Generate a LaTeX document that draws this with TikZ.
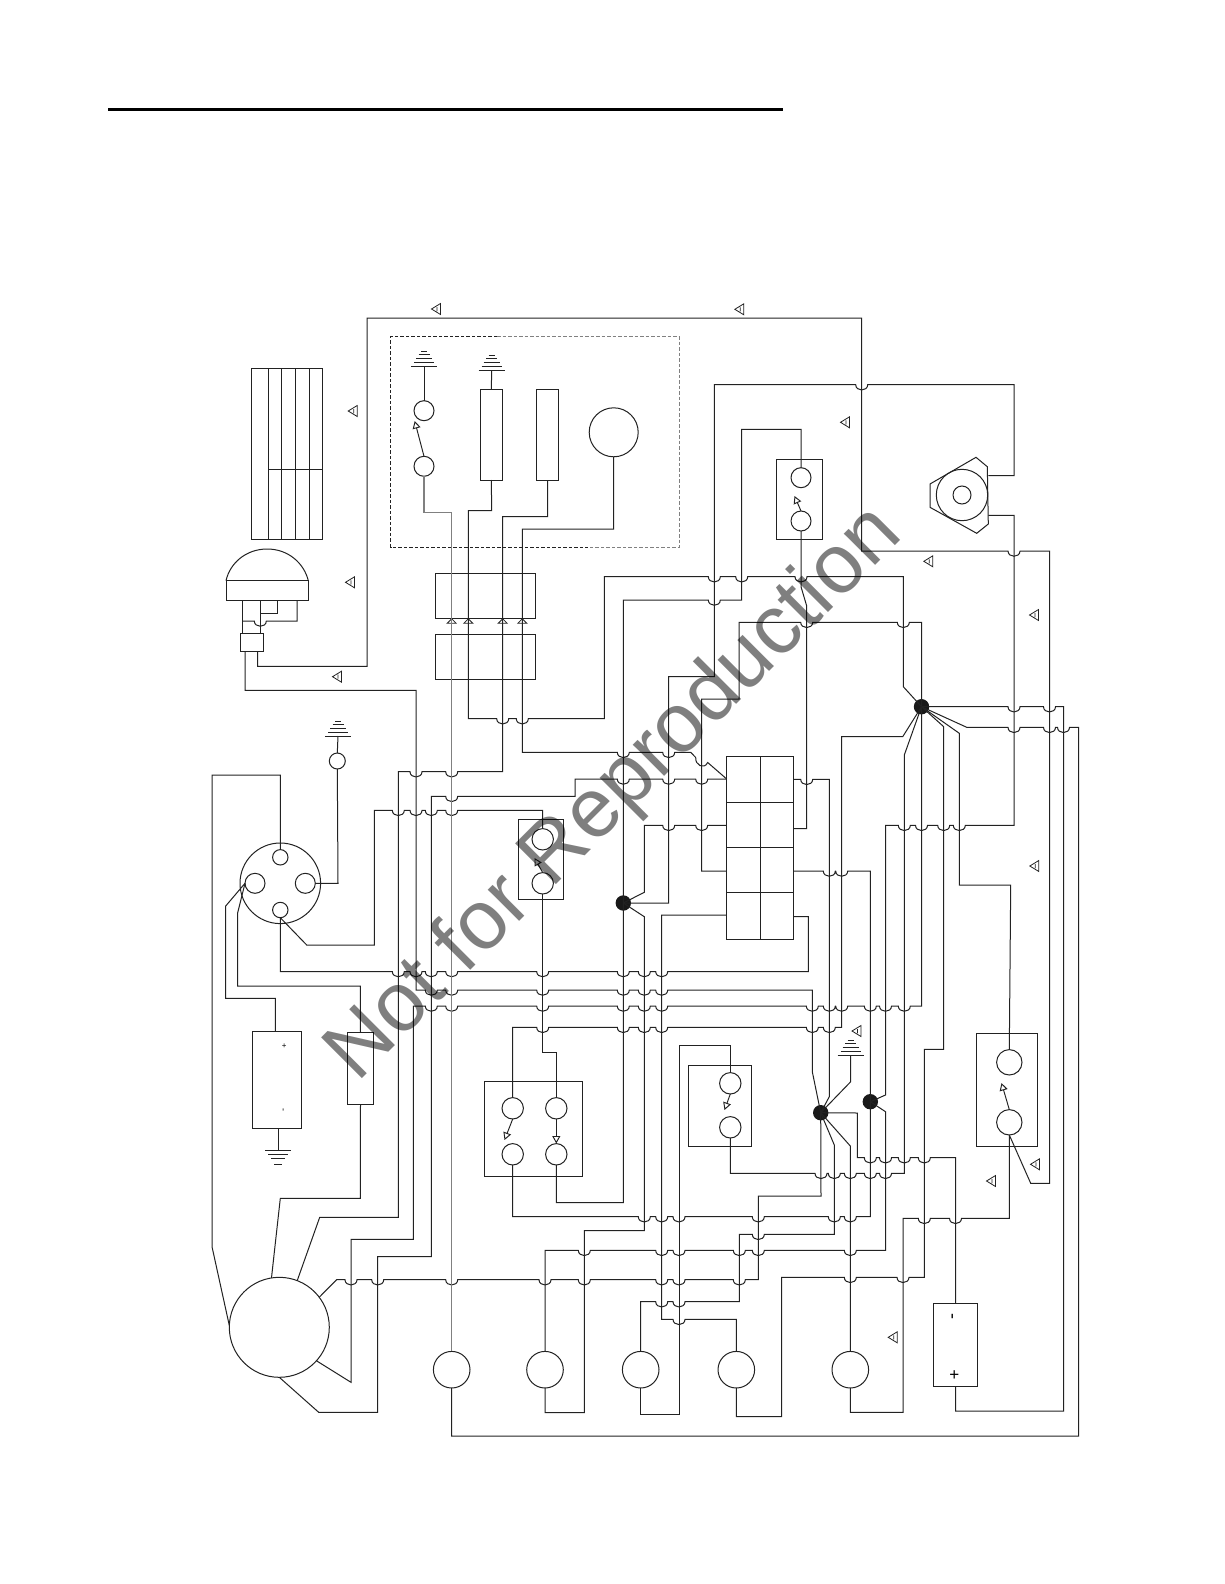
\documentclass[tikz,border=0pt]{standalone}
\usepackage{fontspec}
\setmainfont{Liberation Sans}
\usetikzlibrary{arrows.meta}
\definecolor{wirecol}{HTML}{222222}
\definecolor{greycol}{HTML}{808080}
\tikzset{
  wire/.style={draw=wirecol,line width=1pt,line join=miter},
  greywire/.style={draw=greycol,line width=1.2pt,line join=miter},
  part/.style={draw=wirecol,line width=1pt,rectangle,inner sep=0pt,outer sep=0pt},
  circ/.style={draw=wirecol,line width=1pt,circle,inner sep=0pt,outer sep=0pt},
  junction/.style={fill=black!90,circle,inner sep=0pt,outer sep=0pt,minimum size=15.4pt},
  actuator/.style={draw=wirecol,line width=0.95pt,-{Triangle[open,length=7.5pt,width=8pt]}},
  symline/.style={draw=wirecol,line width=0.8pt},
  watermark/.style={text=black,text opacity=0.5,font=\fontsize{83.8}{84}\selectfont,rotate=45,anchor=base west,inner sep=0pt}
}
\newcommand{\HH}[2]{\foreach \hx in {#2}{ -- (\hx-6,#1) .. controls (\hx-6,#1+7) and (\hx+6,#1+7) .. (\hx+6,#1)}}
\newcommand{\Bx}[5]{\node[part,minimum width={#4pt-#2pt},minimum height={#5pt-#3pt}] (#1) at ({(#2+#4)/2},{(#3+#5)/2}) {};}
\newcommand{\Cr}[4]{\node[circ,minimum size={2*#4pt}] (#1) at (#2,#3) {};}
\newcommand{\Flag}[2]{\draw[symline] (#1-4.5,#2) -- (#1+4.5,#2-5.5) -- (#1+4.5,#2+5.5) -- cycle (#1+1,#2-2) -- (#1+1,#2+2);}
\newcommand{\Tri}[2]{\draw[symline] (#1-4.5,#2+4.5) -- (#1,#2) -- (#1+4.5,#2+4.5) -- cycle;}
\newcommand{\GndUp}[2]{\draw[symline,line width=0.9pt] (#1-13,#2) -- (#1+13,#2);
  \draw[symline] (#1-10,#2-4) -- (#1+10,#2-4) (#1-8,#2-8) -- (#1+8,#2-8) (#1-5.5,#2-12) -- (#1+5.5,#2-12) (#1-3,#2-15) -- (#1+3,#2-15);}
\newcommand{\GndDn}[2]{\draw[symline,line width=0.9pt] (#1-13,#2) -- (#1+13,#2);
  \draw[symline] (#1-10,#2+4) -- (#1+10,#2+4) (#1-7,#2+8) -- (#1+7,#2+8) (#1-4,#2+14) -- (#1+4,#2+14);}
\begin{document}
\begin{tikzpicture}[x=1pt,y=-1pt]
\useasboundingbox (0,0) rectangle (1224,1584);
\fill[white] (0,0) rectangle (1224,1584);
% heading rule
\coordinate (ruleA) at (108,109.3);
\coordinate (ruleB) at (783,109.3);
\draw[black,line width=3pt] (ruleA) -- (ruleB);

% -------- parts ----------
\Bx{panel}{251.3}{368.3}{322.3}{539.3}
\foreach \vx in {268.3,281.3,295.7,309.7}{\draw[wire] (\vx,368.3) -- (\vx,539.3);}
\draw[wire] (268.3,469.3) -- (322.3,469.3);
% dome lamp
\Bx{domebase}{226}{580.7}{308.3}{600}
\draw[wire] (226,580.7) .. controls (230,563) and (246,549) .. (267.2,549) .. controls (288,549) and (304,563) .. (308.3,580.7);
\Bx{plug}{240.7}{633.3}{263.3}{651}
\coordinate (plugA) at (245,651);
\coordinate (plugB) at (257.7,651);
% dashed module
\draw[wire,dash pattern=on 3.5pt off 2pt] (497,336.7) -- (390.7,336.7) -- (390.7,547.3) -- (588,547.3);
\draw[greywire,line width=0.95pt,dash pattern=on 3.5pt off 2pt] (497,336.7) -- (679,336.7) -- (679,547.3) -- (588,547.3);
\Cr{mU}{424}{410.7}{10}
\Cr{mL}{424}{466.3}{10}
\Bx{rA}{480.3}{389.3}{502.3}{480}
\Bx{rB}{536.7}{389.3}{558.3}{480}
\Cr{gauge}{613.7}{432.3}{24.5}
\GndUp{424}{366.7}
\GndUp{491.7}{370.7}
\draw[actuator] (mL.north) ++(0,0) -- (414.7,421);
\coordinate (gA) at (424,366.7);
\coordinate (gB) at (491.7,370.7);
\draw[wire] (gA) -- (mU.north);
\draw[wire] (gB) -- (rA.north);
% inline connector
\Bx{cnU}{435.7}{573.7}{535.3}{618.3}
\Bx{cnD}{435.7}{634.7}{535.3}{679.3}
\Tri{451.7}{618.8}
\Tri{468.3}{618.8}
\Tri{502.7}{618.8}
\Tri{522.3}{618.8}
% upper switch
\Bx{swT}{776.3}{459}{822}{539.3}
\Cr{sT}{801}{477.7}{10}
\Cr{sB}{801}{521}{10}
\draw[actuator] (sB.north) -- (794.5,496);
% alternator
\coordinate (altA) at (988.3,475.7);
\coordinate (altB) at (988.3,515.3);
\draw[wire] (976,457.3) -- (987.3,466.7) -- (988.3,524) -- (976.7,533.3) -- (930,507.3) -- (930,484) -- cycle;
\Cr{altO}{962}{495}{25.7}
\Cr{altI}{962}{495}{9}
% fuse table
\Bx{tbl}{726.7}{756}{793.3}{939}
\draw[wire] (726.7,802) -- (793.3,802) (726.7,847.3) -- (793.3,847.3) (726.7,892.3) -- (793.3,892.3) (760.3,756) -- (760.3,939);
\coordinate (tL1) at (726.7,779);
\coordinate (tL2) at (726.7,825.3);
\coordinate (tL3) at (726.7,871);
\coordinate (tL4) at (726.7,915);
\coordinate (tR1) at (793.3,779.3);
\coordinate (tR2) at (793.3,828.7);
\coordinate (tR3) at (793.3,871);
\coordinate (tR4) at (793.3,916.7);
% round connector
\Cr{cn}{280.3}{883.3}{40.3}
\Cr{cnT}{280.3}{857.3}{7.7}
\Cr{cnB}{280.3}{910}{7.7}
\Cr{cnL}{255}{883.3}{10}
\Cr{cnR}{305.3}{883.3}{10}
\Cr{gc}{337.3}{761}{8}
\GndUp{338}{736}
\coordinate (gC) at (338,736);
\draw[wire] (gC) -- (gc.north);
% left battery + fuse
\Bx{batL}{252.3}{1031}{301.3}{1128.3}
\coordinate (batLt) at (275.3,1031);
\coordinate (batLb) at (278,1128.3);
\node[inner sep=0pt,font=\fontsize{8}{8}\selectfont] (batLp) at (284.3,1045.7) {+};
\node[inner sep=0pt,rotate=90,font=\fontsize{9}{9}\selectfont] (batLm) at (284.3,1110) {-};
\coordinate (gD) at (278,1150);
\GndDn{278}{1150}
\draw[wire] (batLb) -- (gD);
\Bx{fuse}{347.7}{1032.7}{373.3}{1104}
% middle switch
\Bx{swM}{518.3}{819}{563.3}{899.3}
\Cr{sM1}{542.7}{839.3}{10.7}
\Cr{sM2}{542.7}{883.3}{10.7}
\draw[actuator] (sM2.north) -- (534.5,858);
% lower switch block
\Bx{swL}{484.3}{1081}{582.3}{1176.3}
\Cr{l1}{512.7}{1108.3}{10.7}
\Cr{l2}{556.3}{1108.3}{10.7}
\Cr{l3}{512.7}{1154.3}{10.7}
\Cr{l4}{556.3}{1154.3}{10.7}
\draw[actuator] (l1.south) -- (504.5,1140);
\draw[actuator] (l2.south) -- (556.3,1143.5);
% lower mid switch
\Bx{swN}{688.3}{1065}{751.3}{1146}
\Cr{n1}{730.3}{1083.3}{10.7}
\Cr{n2}{730.3}{1127.3}{10.7}
\draw[actuator] (n1.south) -- (724.5,1110);
% right switch
\Bx{swR}{976.3}{1033.3}{1037.7}{1146.3}
\Cr{r1}{1009.3}{1062.3}{12.7}
\Cr{r2}{1009.3}{1122.3}{12.7}
\draw[actuator] (r2.north) -- (1001.5,1083);
% motor + lamps + right battery
\Cr{big}{279.3}{1327.3}{50}
\Cr{c1}{451.7}{1369.7}{18.3}
\Cr{c2}{545}{1369.7}{18.3}
\Cr{c3}{640.7}{1369.7}{18.3}
\Cr{c4}{736.3}{1369.7}{18.3}
\Cr{c5}{850.3}{1369.7}{18.3}
\Bx{batR}{933.7}{1303.3}{977.3}{1386.7}
\node[inner sep=0pt,rotate=90,font=\fontsize{18}{18}\selectfont] (batRm) at (954.3,1316.5) {-};
\node[inner sep=0pt,font=\fontsize{17}{17}\selectfont] (batRp) at (954.3,1375.7) {+};
\coordinate (batRt) at (955.5,1303.3);
\coordinate (batRb) at (955.5,1386.7);
\GndUp{850.7}{1055}
\coordinate (gE) at (850.7,1055);
% junctions
\node[junction] (J1) at (921.5,706.7) {};
\node[junction] (J2) at (623.3,903) {};
\node[junction] (J3) at (870.3,1101.7) {};
\node[junction] (J4) at (820.7,1112.7) {};

% -------- wires ----------
\draw[wire] (plugB) -- (257.7,666.3) -- (367,666.3) -- (367,318) -- (861.7,318) -- (861.7,551) \HH{551}{1014} -- (1049.5,551) -- (1049.5,1183.3) -- (1030.7,1183.3) -- (r2.south);
\draw[wire] (J2.center) -- (668.7,903) -- (668.7,676.7) -- (714.3,676.7) -- (714.3,384.7) \HH{384.7}{861.7} -- (1014,384.7) -- (1014,475.7) -- (altA);
\draw[wire] (J3.center) -- (885.5,1095) -- (885.5,825.3) \HH{825.3}{904.3,921.5,943.7,959.3} -- (1014,825.3) -- (1014,515.3) -- (altB);
\draw[wire] (l4.south) -- (556.3,1202.7) -- (623.3,1202.7) -- (623.3,600) \HH{600}{714.3} -- (741.7,600) -- (741.7,429.3) -- (801,429.3) -- (sT.north);
\draw[wire] (rA.south) -- (491.7,510.7) -- (468.3,510.7) -- (468.3,718.7) \HH{718.7}{502.7,522.3} -- (604.3,718.7) -- (604.3,576.7) \HH{576.7}{714.3,741.7,801} -- (903.3,576.7) -- (903.3,686.7) -- (J1.center);
\draw[wire] (tL3) -- (701.7,871) -- (701.7,699) -- (739,699) -- (739,622.3) \HH{622.3}{806.7,903.3} -- (921.5,622.3) -- (J1.center);
\draw[wire] (sB.south) -- (801,586.7) -- (806.7,606) -- (806.7,828.7) -- (tR2);
\draw[wire] (tR1) \HH{779.3}{806.7} -- (829.3,779.3) -- (829.3,1096.7) -- (J4.center);
\draw[wire] (l1.north) -- (512.7,1027.3) \HH{1027.3}{542.7,623.3,644.3,661.7,812.3,829.3} -- (841.7,1027.3) -- (841.7,736.7) -- (902.7,736.7) -- (J1.center);
\draw[wire] (cnB.south) -- (280.3,971.5) \HH{971.5}{398.3,416,431.3,451.7,542.7,623.3,644.3,661.7} -- (808.3,971.5) -- (808.3,916.7) -- (tR4);
\draw[wire] (plugA) -- (245,690.3) -- (416,690.3) -- (416,990) \HH{990}{431.3,451.7,542.7,623.3,644.3,661.7} -- (812.3,990) -- (812.3,1071.7) -- (J4.center);
\draw[wire] (big.-42) -- (351,1382.3) -- (351,1239.3) -- (413.3,1239.3) -- (413.3,1006) \HH{1006}{431.3,451.7,542.7,623.3,644.3,661.7,812.3,829.3,841.7,870.3,885.5,904.3} -- (921.5,1006) -- (J1.center);
\draw[wire] (big.south) -- (318.7,1412.3) -- (377.7,1412.3) -- (377.7,1256.7) -- (431.3,1256.7) -- (431.3,796.3) \HH{796.3}{451.7} -- (575,796.3) -- (575,779) \HH{779}{623.3,668.7,701.7} -- (tL1);
\draw[wire] (big.69) -- (319.7,1217.3) -- (398.3,1217.3) -- (398.3,771.7) \HH{771.7}{416,451.7} -- (502.7,771.7) -- (502.7,516.7) -- (547.7,516.7) -- (rB.south);
\draw[wire] (big.99) -- (280.3,1198.3) -- (360.3,1198.3) -- (fuse.south);
\draw[wire] (fuse.north) -- (360.3,986) -- (237.7,986) -- (237.7,912.7) -- (cnL.west);
\draw[wire] (cnL.west) -- (225.7,906) -- (225.7,998.3) -- (275.3,998.3) -- (batLt);
\draw[wire] (big.178) -- (212,1246.7) -- (212,775) -- (280.3,775) -- (cnT.north);
\draw[wire] (cnR.east) -- (338,883.3) -- (gc.south);
\draw[wire] (cnB.south) -- (306.7,945) -- (374.3,945) -- (374.3,810.3) \HH{810.3}{398.3,416,431.3,451.7} -- (542.7,810.3) -- (sM1.north);
\draw[wire] (sM2.south) -- (542.7,1052.7) -- (556.3,1052.7) -- (l2.north);
\draw[wire] (gauge.south) -- (613.7,529) -- (522.3,529) -- (522.3,752.3) \HH{752.3}{623.3,668.7} -- (690.7,752.3) -- (695.7,757.5) .. controls (695,765) and (704,770) .. (707.7,762.5) -- (tL1);
\draw[wire] (J2.center) -- (644.3,892.3) -- (644.3,825.3) \HH{825.3}{668.7,701.7} -- (tL2);
\draw[wire] (J2.center) -- (644.3,916.7) -- (644.3,1230.7) -- (584.3,1230.7) -- (584.3,1412.7) -- (545,1412.7) -- (c2.south);
\draw[wire] (tL4) -- (661.7,915) -- (661.7,1319.3) \HH{1319.3}{679} -- (736.3,1319.3) -- (c4.north);
\draw[wire] (n1.north) -- (730.3,1045) -- (679.2,1045) -- (679.2,1414.3) -- (640.7,1414.3) -- (c3.south);
\draw[wire] (c3.north) -- (640.7,1301.7) \HH{1301.7}{661.7,679} -- (739.3,1301.7) -- (739.3,1234.3) \HH{1234.3}{758.3} -- (834.3,1234.3) -- (834.3,1145) -- (J4.center);
\draw[wire] (l3.south) -- (512.7,1216.7) \HH{1216.7}{644.3,661.7,679,758.3,834.3,850.3} -- (870.3,1216.7) -- (J3.center);
\draw[wire] (tR3) \HH{871}{829.3,841.7} -- (870.3,871) -- (J3.center);
\draw[wire] (c2.north) -- (545,1250.3) \HH{1250.3}{584.3,661.7,679,739.3,758.3,850.3} -- (885.5,1250.3) -- (885.5,1111.7) -- (J3.center);
\draw[wire] (big.37) -- (336.7,1279.7) \HH{1279.7}{351,377.7,451.7,545,584.3,661.7,679,739.3} -- (758.3,1279.7) -- (758.3,1196) -- (821,1196) -- (J4.center);
\draw[wire] (c4.south) -- (736.3,1416.7) -- (781.7,1416.7) -- (781.7,1277.3) \HH{1277.3}{850.3,903} -- (924.3,1277.3) -- (924.3,1049.3) -- (943.7,1049.3) -- (943.7,726.7) -- (J1.center);
\draw[wire] (J1.center) -- (959.3,733.3) -- (959.3,885) -- (1010.7,885) -- (r1.north);
\draw[wire] (n2.south) -- (730.3,1173.3) \HH{1173.3}{821,834.3,850.3,870.3,885.5} -- (904.3,1173.3) -- (904.3,755) -- (J1.center);
\draw[wire] (J4.center) -- (857.3,1113) -- (857.3,1157.7) \HH{1157.7}{870.3,885.5,904.3,924.3} -- (955.5,1157.7) -- (batRt);
\draw[wire] (c5.south) -- (850.3,1412.3) -- (903,1412.3) -- (903,1218.3) \HH{1218.3}{924.3,955.5} -- (1009.3,1218.3) -- (r2.south);
\draw[wire] (c5.north) -- (850.3,1146) -- (J4.center);
\draw[wire] (J1.center) -- (966.7,727.3) \HH{727.3}{1014,1049.5,1063.5} -- (1078.5,727.3) -- (1078.5,1436) -- (451.7,1436) -- (c1.south);
\draw[wire] (J1.center) \HH{706.7}{1014,1049.5} -- (1063.5,706.7) -- (1063.5,1411) -- (955.5,1411) -- (batRb);
\draw[greywire] (mL.south) -- (424,512.3) -- (451.7,512.3) -- (c1.north);
\draw[wire] (J4.center) -- (850.7,1081.7) -- (gE);
% dome wires
\draw[wire] (242.3,600) -- (242.3,633.3);
\draw[wire] (260.3,600) -- (260.3,633.3);
\draw[wire] (277.7,600) -- (277.7,613.3) -- (260.3,613.3);
\draw[wire] (242.3,621) \HH{621}{260.3} -- (297,621) -- (297,600);
% flags
\Flag{436}{309}
\Flag{739.3}{309.3}
\Flag{352.7}{411}
\Flag{350}{582.3}
\Flag{337}{676.7}
\Flag{845}{422.3}
\Flag{928.3}{561.3}
\Flag{1034}{615}
\Flag{1034.3}{866}
\Flag{856.5}{1031}
\Flag{1035}{1164.3}
\Flag{991}{1181}
\Flag{892.7}{1337.3}
% watermark
\node[watermark] (wm) at (357.2,1083.8) {Not for Reproduction};
\end{tikzpicture}
\end{document}
